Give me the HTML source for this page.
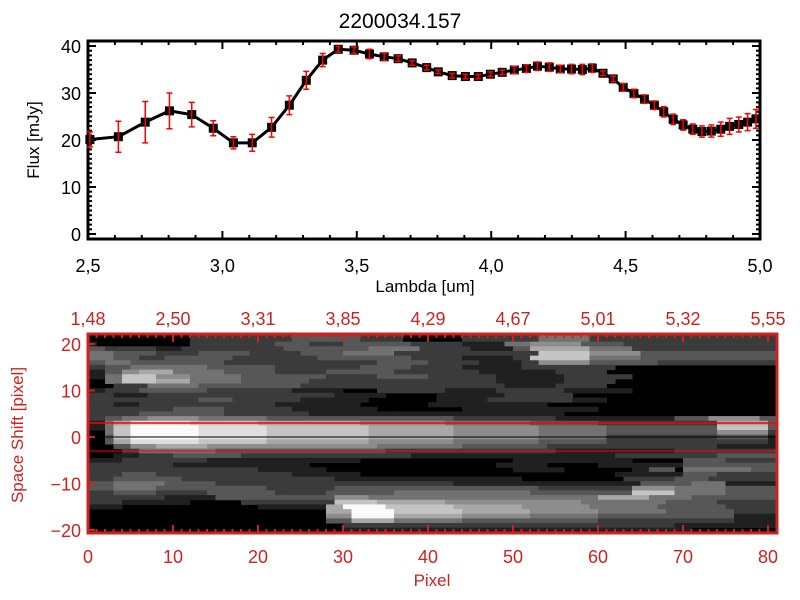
<!DOCTYPE html>
<html><head><meta charset="utf-8"><style>
html,body{margin:0;padding:0;background:#fff;width:800px;height:600px;overflow:hidden}
svg{display:block;font-family:"Liberation Sans",sans-serif}
</style></head><body>
<svg id="c" width="800" height="600" viewBox="0 0 800 600"></svg>
<script>
const lambda=[2.507,2.613,2.713,2.803,2.886,2.966,3.041,3.111,3.183,3.249,3.312,3.373,3.431,3.490,3.547,3.602,3.654,3.706,3.760,3.803,3.855,3.904,3.952,3.997,4.041,4.086,4.131,4.172,4.216,4.257,4.299,4.339,4.376,4.416,4.454,4.491,4.531,4.570,4.607,4.642,4.677,4.714,4.750,4.784,4.819,4.854,4.887,4.921,4.954,4.985];
const flux=[20.1,20.7,23.8,26.2,25.4,22.5,19.4,19.4,22.7,27.4,32.7,37.0,39.3,39.1,38.3,37.7,37.3,36.4,35.4,34.5,33.7,33.5,33.5,34.0,34.4,34.9,35.2,35.7,35.5,35.1,35.1,35.0,35.3,34.2,33.0,31.2,29.9,28.7,27.4,26.0,24.4,23.2,22.3,21.8,21.9,22.3,22.9,23.3,23.8,24.5];
const fluxErr=[1.6,3.3,4.4,3.8,2.6,1.6,1.3,1.8,2.1,2.0,1.9,1.4,0.6,0.7,1.0,0.8,0.6,0.5,0.5,0.4,0.5,0.5,0.5,0.5,0.5,0.8,0.8,0.9,0.9,0.8,1.0,1.1,0.9,0.5,0.6,0.8,0.9,0.9,0.9,1.1,1.1,1.1,1.1,1.2,1.3,1.5,1.7,1.6,1.8,2.0];
const xTicks=["2.5","3.0","3.5","4.0","4.5","5.0"];
const yTicks=["0","10","20","30","40"];
const topWaveTicks=["1.48","2.50","3.31","3.85","4.29","4.67","5.01","5.32","5.55"];
const pixTicks=["0","10","20","30","40","50","60","70","80"];
const shiftTicks=["-20","-10","0","10","20"];
// heatmap rows, top (shift 21) to bottom (shift -20), run-length "value x count"
const heatRows=[
"0x12 2x12 3x8 2x5 0x7 2x9 4x6 2x22",
"1x1 0x11 2x10 3x4 2x4 3x8 2x6 1x5 4x3 5x6 3x5 2x18",
"3x2 2x6 1x3 2x12 3x6 3x4 4x6 2x6 1x5 3x2 6x7 4x5 2x17",
"4x3 3x5 2x5 3x6 2x6 3x5 4x6 2x3 2x6 2x8 7x6 5x6 3x16",
"4x3 3x3 2x3 3x8 2x10 3x6 3x5 2x6 1x6 2x2 7x7 4x6 3x16",
"3x2 4x3 3x5 3x6 2x10 2x8 3x6 2x6 1x5 2x2 5x6 3x8 2x14",
"2x2 3x3 4x3 4x6 3x8 2x10 3x6 2x6 1x7 2x7 2x4 0x19",
"1x2 3x2 5x2 6x4 4x6 3x6 2x6 3x8 2x10 1x9 2x6 0x20",
"1x2 4x2 7x4 5x4 4x6 3x10 2x6 3x6 2x8 1x8 2x8 0x17",
"0x2 4x2 7x4 6x4 4x6 3x8 2x6 2x8 2x8 1x8 2x6 0x19",
"0x3 2x4 4x6 3x6 3x6 2x10 2x8 2x6 1x6 2x6 0x20",
"1x2 2x4 3x8 2x10 1x6 0x4 2x8 1x6 2x8 1x8 0x17",
"2x3 1x4 2x6 2x8 2x8 1x6 0x6 1x8 2x8 0x24",
"2x3 2x4 2x6 3x4 2x8 1x8 0x8 1x6 2x10 1x4 0x20",
"2x3 1x3 2x8 2x8 1x10 0x8 1x8 1x6 0x27",
"2x4 2x6 3x6 2x8 1x10 0x10 1x12 1x4 0x21",
"2x2 2x4 3x4 3x6 2x10 1x10 1x10 1x10 0x25",
"2x2 3x2 4x3 5x6 4x8 3x12 3x10 2x12 1x14 3x4 5x6 3x2",
"1x2 4x1 6x2 8x7 7x8 6x12 5x10 4x10 3x8 2x14 6x6 3x1",
"1x2 4x1 7x2 9x8 8x8 7x12 6x10 5x10 4x8 3x13 7x6 3x1",
"0x2 4x1 7x2 9x8 8x8 7x12 6x10 5x10 4x8 3x13 5x6 2x1",
"0x2 3x1 7x2 9x8 8x8 7x12 6x10 5x10 4x8 2x13 3x6 1x1",
"0x2 3x1 6x2 8x8 7x8 6x12 5x10 4x10 3x8 2x14 2x5 1x1",
"0x3 3x2 5x3 6x6 5x8 5x12 4x10 3x10 2x8 2x6 2x6 1x7",
"0x4 2x2 4x3 4x6 3x8 3x12 2x10 2x10 1x8 1x6 2x6 2x6",
"0x3 1x3 2x4 3x8 2x10 2x10 1x10 1x8 1x6 2x6 2x6 3x7",
"1x4 2x4 2x6 1x10 1x8 0x10 0x8 1x6 1x8 0x6 3x5 2x6",
"2x4 2x6 1x8 1x8 0x12 0x10 1x6 0x6 1x6 1x4 3x5 3x6",
"2x5 2x5 2x10 1x8 0x12 0x10 1x6 0x8 1x2 3x3 0x1 4x8 3x3",
"2x4 3x4 2x6 2x10 1x8 0x12 0x10 0x8 1x8 3x4 2x7",
"2x3 3x4 3x4 2x10 2x8 1x10 1x12 0x12 2x6 3x4 2x8",
"3x3 4x6 3x6 2x10 2x8 2x10 1x12 1x10 3x6 4x4 1x6",
"3x3 4x5 3x5 3x8 2x8 3x8 3x8 3x8 2x11 5x5 4x6 3x6",
"2x3 3x5 2x6 3x8 2x6 3x8 4x8 4x8 3x12 7x5 4x6 3x6",
"2x3 2x6 1x6 3x8 3x6 5x4 4x8 4x8 4x11 6x6 4x5 3x10",
"2x4 1x8 0x6 2x6 2x5 7x5 6x8 5x8 5x8 4x10 3x6 2x7",
"1x4 0x10 0x6 1x8 6x2 9x5 7x8 6x8 5x8 4x8 3x8 2x6",
"0x28 6x3 9x5 7x8 6x8 5x8 4x8 3x8 2x5",
"0x28 5x3 9x5 6x8 5x8 4x8 3x8 3x8 1x5",
"0x28 3x3 6x5 4x8 3x8 3x8 2x8 2x8 1x5",
"0x30 2x5 2x10 2x14 2x10 1x12",
"0x30 1x5 1x10 1x16 1x10 0x10"];

const NS="http://www.w3.org/2000/svg";
const svg=document.getElementById('c');
function mk(tag,attrs,parent){const e=document.createElementNS(NS,tag);for(const k in attrs)e.setAttribute(k,attrs[k]);(parent||svg).appendChild(e);return e;}
const RED="#cc2222";
// ---------- top plot ----------
const X0=88,X1=760,Y0=239,Y1=41;
const sx=v=>X0+(v-2.5)/2.5*(X1-X0);
const sy=v=>234-v*4.7;
const gTop=mk('g',{});


const title=mk('text',{x:400,y:28,'font-size':21,'text-anchor':'middle',fill:'#000'});
title.textContent='2200034.157';


for(let i=0;i<=25;i++){const v=2.5+i*0.1;const x=sx(v);const L=(i%5===0)?8:4;
 mk('line',{x1:x,x2:x,y1:Y0,y2:Y0-L,stroke:'#000','stroke-width':2},gTop);
 mk('line',{x1:x,x2:x,y1:Y1,y2:Y1+L,stroke:'#000','stroke-width':2},gTop);}
for(let v=0;v<=41;v++){const y=sy(v);const L=(v%10===0)?8:4;
 mk('line',{x1:X0,x2:X0+L,y1:y,y2:y,stroke:'#000','stroke-width':2},gTop);
 mk('line',{x1:X1,x2:X1-L,y1:y,y2:y,stroke:'#000','stroke-width':2},gTop);}
mk('rect',{x:X0,y:Y1,width:X1-X0,height:Y0-Y1,fill:'none',stroke:'#000','stroke-width':3},gTop);
xTicks.forEach(t=>{const e=mk('text',{x:sx(parseFloat(t)),y:272,'font-size':18,'text-anchor':'middle',fill:'#000'},gTop);e.textContent=t.replace('.',',');
 });
yTicks.forEach(t=>{const e=mk('text',{x:81,y:sy(parseFloat(t))+7,'font-size':18,'text-anchor':'end',fill:'#000'},gTop);e.textContent=t;
 });
const xl=mk('text',{x:425,y:292,'font-size':17,'text-anchor':'middle',fill:'#000'},gTop);xl.textContent='Lambda [um]';

const yl=mk('text',{x:0,y:0,'font-size':17,'text-anchor':'middle',fill:'#000',transform:'translate(39,140) rotate(-90)'},gTop);yl.textContent='Flux [mJy]';

const pts=lambda.map((l,i)=>sx(l)+','+sy(flux[i])).join(' ');
const pl=mk('polyline',{points:pts,fill:'none',stroke:'#000','stroke-width':3},gTop);

lambda.forEach((l,i)=>{const x=sx(l),y=sy(flux[i]);
 const m=mk('rect',{x:x-4.5,y:y-4.5,width:9,height:9,fill:'#000'},gTop);
 
 const ya=sy(flux[i]+fluxErr[i]),yb=sy(flux[i]-fluxErr[i]);
 const eb=mk('path',{d:`M${x},${ya}V${yb}M${x-3},${ya}H${x+3}M${x-3},${yb}H${x+3}`,stroke:'#ff0000','stroke-width':1.5,fill:'none'},gTop);
 });
// ---------- bottom heatmap ----------
const BX0=88,BX1=777,BY0=334,BY1=533;
const px=v=>BX0+v*8.5;
const py=v=>437-v*4.65;
const gB=mk('g',{});


const clip=mk('clipPath',{id:'cl'},gB);mk('rect',{x:BX0,y:BY0,width:BX1-BX0,height:BY1-BY0},clip);
const gH=mk('g',{'clip-path':'url(#cl)'},gB);
mk('rect',{x:BX0,y:BY0,width:BX1-BX0,height:BY1-BY0,fill:'#000'},gH);
heatRows.forEach((row,ri)=>{const s=21-ri;let col=0;
 const y0=(ri===0)?BY0-2:py(s+0.5);const y1=(ri===heatRows.length-1)?BY1+2:py(s-0.5);
 row.split(' ').forEach(seg=>{const [v,n]=seg.split('x').map(Number);
  if(v>0){const g=Math.round(v/9*245+5);
   const r=mk('rect',{x:px(col),y:y0,width:n*8.5+0.5,height:y1-y0+0.5,fill:`rgb(${g},${g},${g})`},gH);
   }
  col+=n;});});
mk('line',{x1:BX0,x2:BX1,y1:py(3),y2:py(3),stroke:'#ff0000','stroke-width':1.5},gB);
mk('line',{x1:BX0,x2:BX1,y1:py(-3),y2:py(-3),stroke:'#ff0000','stroke-width':1},gB);
mk('line',{x1:BX0,x2:BX1,y1:py(0),y2:py(0),stroke:'#000','stroke-width':1},gB);
for(let i=0;i<=81;i++){const x=px(i);const L=(i%10===0)?8:4;
 mk('line',{x1:x,x2:x,y1:BY1,y2:BY1-L,stroke:RED,'stroke-width':2},gB);
 mk('line',{x1:x,x2:x,y1:BY0,y2:BY0+L,stroke:RED,'stroke-width':2},gB);}
[-20,-10,0,10,20].forEach(v=>{mk('line',{x1:BX0,x2:BX0+7,y1:py(v),y2:py(v),stroke:RED,'stroke-width':2},gB);});
mk('rect',{x:BX0,y:BY0,width:BX1-BX0,height:BY1-BY0,fill:'none',stroke:RED,'stroke-width':3},gB);
pixTicks.forEach(t=>{const e=mk('text',{x:px(parseFloat(t)),y:563,'font-size':18,'text-anchor':'middle',fill:RED},gB);e.textContent=t;
 });
topWaveTicks.forEach((t,i)=>{const e=mk('text',{x:px(i*10),y:325,'font-size':18,'text-anchor':'middle',fill:RED},gB);e.textContent=t.replace('.',',');
 });
shiftTicks.forEach(t=>{const e=mk('text',{x:81,y:py(parseFloat(t))+7,'font-size':18,'text-anchor':'end',fill:RED},gB);e.textContent=t.replace('-','\u2212');
 });
const pxl=mk('text',{x:432,y:586,'font-size':17,'text-anchor':'middle',fill:RED},gB);pxl.textContent='Pixel';

const ssl=mk('text',{x:0,y:0,'font-size':17,'text-anchor':'middle',fill:RED,transform:'translate(23,435) rotate(-90)'},gB);ssl.textContent='Space Shift [pixel]';

</script>
</body></html>
